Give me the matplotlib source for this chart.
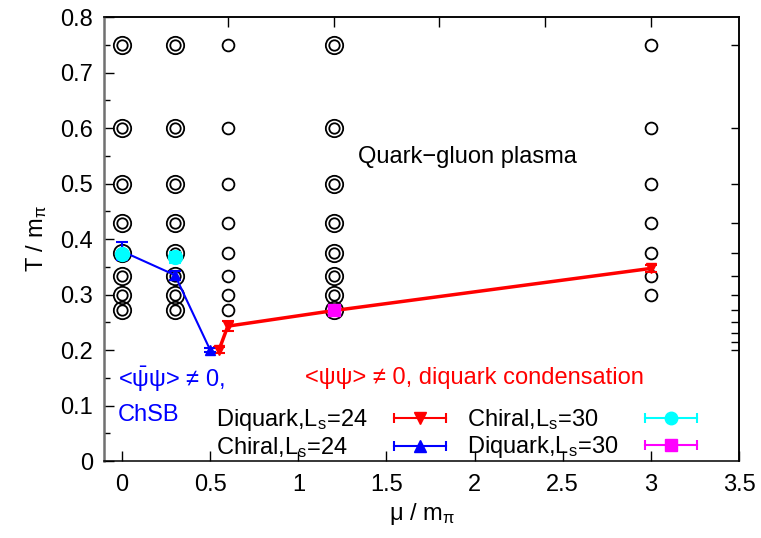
import numpy as np
import matplotlib
matplotlib.use("Agg")
import matplotlib.pyplot as plt
from matplotlib.lines import Line2D
from matplotlib.legend_handler import HandlerLine2D, HandlerTuple

plt.rcParams['font.family'] = ['Liberation Sans', 'DejaVu Sans']
plt.rcParams['mathtext.fontset'] = 'custom'
plt.rcParams['mathtext.rm'] = 'Liberation Sans'
plt.rcParams['mathtext.it'] = 'Liberation Sans:italic'
plt.rcParams['font.size'] = 17

# simulation grid (open circles)
T_grid = [0.75, 0.6, 0.5, 0.4286, 0.375, 0.3333, 0.3, 0.2727]
mu_double = [0.0, 0.3, 1.2]
mu_single = [0.6]
mu_far = [3.0]
T_far = [0.75, 0.6, 0.5, 0.4286, 0.375, 0.3333, 0.3]

# transition points
mu_dq24 = [0.55, 0.6, 1.2, 3.0]
T_dq24 = [0.2, 0.243, 0.271, 0.347]
err_dq24 = [0.005, 0.009, 0.004, 0.006]

mu_ch24 = [0.0, 0.3, 0.5]
T_ch24 = [0.378, 0.335, 0.2]
err_ch24 = [0.016, 0.008, 0.004]

mu_ch30 = [0.0, 0.3]
T_ch30 = [0.373, 0.367]
err_ch30 = [0.006, 0.01]

mu_dq30 = [1.2]
T_dq30 = [0.272]
err_dq30 = [0.004]

top_ticks = [0.6, 1.2, 1.8, 2.4, 3.0]
Nt_values = [4, 5, 6, 7, 8, 9, 10, 11, 12, 13, 14, 15]

fig = plt.figure(figsize=(7.61, 5.38), dpi=100)
ax = fig.add_axes([0.1372, 0.1431, 0.8339, 0.8253])

# open circles
for m in mu_double:
    ax.plot([m] * len(T_grid), T_grid, 'o', ms=12.5, mfc='none', mec='black', mew=1.3, zorder=2)
    ax.plot([m] * len(T_grid), T_grid, 'o', ms=7.5, mfc='none', mec='black', mew=1.3, zorder=2)
for m in mu_single:
    ax.plot([m] * len(T_grid), T_grid, 'o', ms=8.5, mfc='none', mec='black', mew=1.3, zorder=2)
for m in mu_far:
    ax.plot([m] * len(T_far), T_far, 'o', ms=8.5, mfc='none', mec='black', mew=1.3, zorder=2)

ax.errorbar(mu_dq24, T_dq24, yerr=err_dq24, color='red', marker='v', ms=7, lw=2.5,
            elinewidth=1.5, capsize=4, capthick=1.5, zorder=4)
ax.errorbar(mu_ch24, T_ch24, yerr=err_ch24, color='blue', marker='^', ms=7, lw=1.5,
            elinewidth=1.5, capsize=4, capthick=1.5, zorder=4)
ax.errorbar(mu_ch30, T_ch30, yerr=err_ch30, color='cyan', marker='o', ms=10, ls='none',
            elinewidth=1.5, capsize=4, capthick=1.5, zorder=5)
ax.errorbar(mu_dq30, T_dq30, yerr=err_dq30, color='magenta', marker='s', ms=8.5, ls='none',
            elinewidth=1.5, capsize=4, capthick=1.5, zorder=5)

ax.text(1.34, 0.548, 'Quark\u2212gluon plasma', va='center', ha='left')
ax.text(-0.023, 0.148, r'<$\bar{\mathrm{\psi}}$ψ> ≠ 0,', color='blue', va='center', ha='left')
ax.text(-0.023, 0.083, 'ChSB', color='blue', va='center', ha='left')
ax.text(1.04, 0.15, '<ψψ> ≠ 0, diquark condensation', color='red', va='center', ha='left')

# legend with gnuplot-like handles
def make_handle(color, marker, ms):
    caps = Line2D([], [], color=color, marker='|', ms=7, mew=1.5, lw=1.5)
    mk = Line2D([], [], color=color, marker=marker, ms=ms, ls='none')
    return caps, mk

h_dq24 = make_handle('red', 'v', 8)
h_ch24 = make_handle('blue', '^', 8)
h_ch30 = make_handle('cyan', 'o', 9)
h_dq30 = make_handle('magenta', 's', 8)
hmap = {h[0]: HandlerLine2D(numpoints=2) for h in [h_dq24, h_ch24, h_ch30, h_dq30]}
hmap[tuple] = HandlerTuple(ndivide=1)
leg = ax.legend([h_dq24, h_ch24, h_ch30, h_dq30],
                ['Diquark,L$_\\mathrm{s}$=24', 'Chiral,L$_\\mathrm{s}$=24',
                 'Chiral,L$_\\mathrm{s}$=30', 'Diquark,L$_\\mathrm{s}$=30'],
                handler_map=hmap, ncol=2, markerfirst=False, frameon=False,
                loc='center', bbox_to_anchor=(0.5604, 0.062), handlelength=2.8,
                handletextpad=0.8, columnspacing=0.6, labelspacing=0.1, borderpad=0,
                fontsize=17)

ax.set_xlim(-0.1, 3.5)
ax.set_ylim(0, 0.8)
ax.set_xticks(np.arange(0, 3.51, 0.5))
ax.set_xticklabels(['0', '0.5', '1', '1.5', '2', '2.5', '3', '3.5'])
ax.set_yticks(np.arange(0, 0.81, 0.1))
ax.set_yticklabels(['0', '0.1', '0.2', '0.3', '0.4', '0.5', '0.6', '0.7', '0.8'])
ax.set_yticks(np.arange(0.05, 0.8, 0.1), minor=True)
ax.tick_params(axis='x', direction='in', length=7, width=1, pad=9)
ax.tick_params(axis='y', which='major', direction='in', length=7, width=1, pad=8)
ax.tick_params(axis='y', which='minor', direction='in', length=4, width=1)

secx = ax.secondary_xaxis('top')
secx.set_xticks(top_ticks)
secx.set_xticklabels([])
secx.tick_params(direction='in', length=7, width=1)
secy = ax.secondary_yaxis('right')
secy.set_yticks([3.0 / nt for nt in Nt_values])
secy.set_yticklabels([])
secy.tick_params(direction='in', length=6, width=1)

for s in ['top', 'right', 'bottom']:
    ax.spines[s].set_linewidth(1.1)
ax.spines['left'].set_color('#707070')
ax.spines['left'].set_linewidth(1.8)
secx.spines['top'].set_linewidth(1.1)
secy.spines['right'].set_linewidth(1.1)

ax.set_xlabel('μ / m$_\\mathrm{\\pi}$', labelpad=4)
ax.set_ylabel('T / m$_\\mathrm{\\pi}$', labelpad=8)

# left-align legend labels while keeping the handles lined up
fig.canvas.draw()
px2pt = 72.0 / fig.dpi
for col in leg._legend_handle_box.get_children():
    col.align = 'left'
    rows = col.get_children()
    widths = [r.get_children()[0].get_window_extent().width for r in rows]
    wmax = max(widths)
    for r, w in zip(rows, widths):
        r.sep = r.sep + (wmax - w) * px2pt

fig.savefig('out.png', dpi=100)
